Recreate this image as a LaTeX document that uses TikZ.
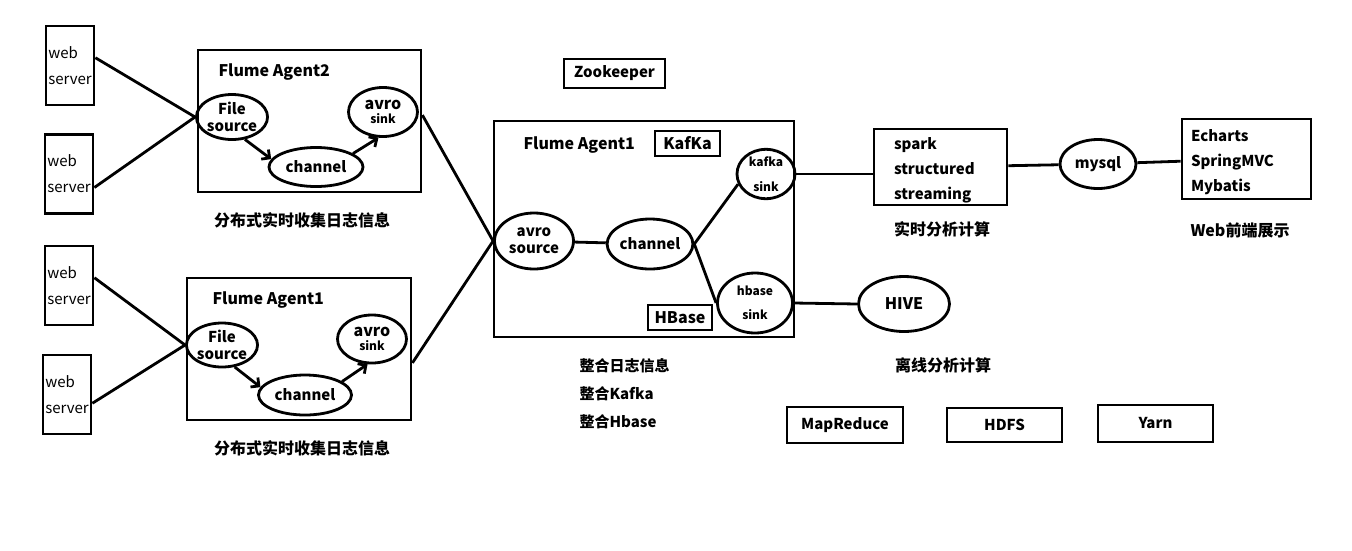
\documentclass[tikz,border=0pt]{standalone}
\usepackage{fontspec}
\setmainfont{Noto Sans CJK SC}
\usetikzlibrary{shapes.geometric, arrows.meta, positioning}

\begin{document}
\begin{tikzpicture}[
    x=1pt, y=-1pt,
    font=\bfseries\fontsize{15}{17}\selectfont,
    every node/.style={align=center},
    thickline/.style={line width=2.8pt},
    srv/.style  ={rectangle, draw, thickline, minimum width=48pt, minimum height=79pt,
                  inner sep=0pt, align=left, font=\mdseries\fontsize{15}{26}\selectfont},
    frame/.style={rectangle, draw, thickline, inner sep=0pt},
    ell/.style  ={ellipse, draw, thickline, inner sep=0pt},
    tag/.style  ={rectangle, draw, thickline, inner sep=0pt},
    title/.style={anchor=west, font=\bfseries\fontsize{16}{18}\selectfont},
    lbl/.style  ={font=\bfseries\fontsize{16}{28}\selectfont},
    link/.style ={thickline},
    arr/.style  ={thickline, -{Straight Barb[length=6pt, width=12pt]}}
]
\useasboundingbox (0,0) rectangle (1352,550);

% web servers
\node[srv] (web1) at (70,65.5)  {web\\server};
\node[srv] (web2) at (69,174)   {web\\server};
\node[srv] (web3) at (69,285.5) {web\\server};
\node[srv] (web4) at (67,394.5) {web\\server};

% Flume Agent2 (top)
\node[frame, minimum width=223pt, minimum height=142pt] (ag2) at (309.5,121) {};
\node[title] (ag2t) at (215,72) {Flume Agent2};
\node[ell, minimum width=69pt, minimum height=45pt] (fs2) at (232,117) {File\\source};
\node[ell, minimum width=94pt, minimum height=39pt] (ch2) at (316,167) {channel};
\node[ell, minimum width=69pt, minimum height=49pt] (as2) at (383,112)
     {{\fontsize{16}{16}\selectfont avro}\\[-3pt]{\fontsize{12}{12}\selectfont sink}};
\node[lbl] (lab2) at (302,220) {分布式实时收集日志信息};

% Flume Agent1 (bottom)
\node[frame, minimum width=224pt, minimum height=142pt] (ag1) at (299,349) {};
\node[title] (ag1t) at (209,300) {Flume Agent1};
\node[ell, minimum width=70pt, minimum height=44pt] (fs1) at (222,345) {File\\source};
\node[ell, minimum width=93pt, minimum height=40pt] (ch1) at (305,395) {channel};
\node[ell, minimum width=69pt, minimum height=48pt] (as1) at (372,339)
     {{\fontsize{16}{16}\selectfont avro}\\[-3pt]{\fontsize{12}{12}\selectfont sink}};
\node[lbl] (lab1) at (302,448) {分布式实时收集日志信息};

% Flume Agent1 (collector)
\node[tag, minimum width=101pt, minimum height=29pt] (zk) at (614.5,73.5) {Zookeeper};
\node[frame, minimum width=300pt, minimum height=216pt] (agm) at (644,229) {};
\node[title] (agmt) at (520,145) {Flume Agent1};
\node[tag, minimum width=65pt, minimum height=25pt, font=\bfseries\fontsize{16}{18}\selectfont] (kafka) at (687.5,143.5) {KafKa};
\node[tag, minimum width=64pt, minimum height=25pt, font=\bfseries\fontsize{16}{18}\selectfont] (hbase) at (680,317.5) {HBase};
\node[ell, minimum width=79pt, minimum height=56pt] (avs) at (534,241) {avro\\source};
\node[ell, minimum width=74pt, minimum height=50pt] (chm) at (650,244) {channel};
\node[ell, minimum width=58pt, minimum height=45pt, font=\bfseries\fontsize{12}{25}\selectfont] (ks) at (766,174) {kafka\\sink};
\node[ell, minimum width=75pt, minimum height=60pt, font=\bfseries\fontsize{12}{24}\selectfont] (hs) at (755,303) {hbase\\sink};
\node[anchor=west, align=left, font=\bfseries\fontsize{15}{28}\selectfont] (integ) at (576,394)
     {整合日志信息\\整合Kafka\\整合Hbase};

% real-time and offline side
\node[frame, minimum width=133pt, minimum height=76pt, text width=93pt, inner xsep=20pt,
      align=left, font=\bfseries\fontsize{15}{25}\selectfont] (spark) at (940.5,167)
     {\rule{0pt}{19pt}spark\\structured\\streaming};
\node[lbl] (labrt) at (942,229) {实时分析计算};
\node[ell, minimum width=76pt, minimum height=49pt] (mysql) at (1098,164) {mysql};
\node[frame, minimum width=129pt, minimum height=80pt, text width=111pt, inner xsep=9pt,
      align=left, font=\bfseries\fontsize{15}{25}\selectfont] (web) at (1246.5,159)
     {\rule{0pt}{19pt}Echarts\\SpringMVC\\Mybatis};
\node[lbl] (labweb) at (1240,230) {Web前端展示};
\node[ell, minimum width=91pt, minimum height=55pt, font=\bfseries\fontsize{16}{18}\selectfont] (hive) at (904,304) {HIVE};
\node[lbl] (laboff) at (943,365) {离线分析计算};
\node[tag, minimum width=116pt, minimum height=36pt] (mr) at (845,425) {MapReduce};
\node[tag, minimum width=115pt, minimum height=34pt] (hdfs) at (1004.5,425) {HDFS};
\node[tag, minimum width=115pt, minimum height=37pt] (yarn) at (1155.5,423.5) {Yarn};

% web servers to file sources
\draw[link] (web1.17)  -- (fs2.west);
\draw[link] (web2.-28) -- (fs2.west);
\draw[link] (web3.17)  -- (fs1.west);
\draw[link] (web4.-19) -- (fs1.west);
% inside the agents
\draw[arr] (fs2.-60) -- (ch2.170);
\draw[arr] (ch2.20)  -- (as2.-100);
\draw[arr] (fs1.-60) -- (ch1.170);
\draw[arr] (ch1.20)  -- (as1.-100);
% agents to collector
\draw[link] (ag2.3)  -- (avs.west);
\draw[link] (ag1.-7) -- (avs.west);
% collector
\draw[link] (avs) -- (chm);
\draw[link] (chm.east) -- (ks.200);
\draw[link] (chm.east) -- (hs.west);
% onward
\draw[link] (ks.east) -- (ks.east -| spark.west);
\draw[link] (hs.east) -- (hive.west);
\draw[link] (spark) -- (mysql);
\draw[link] (mysql) -- (web);
\end{tikzpicture}
\end{document}
